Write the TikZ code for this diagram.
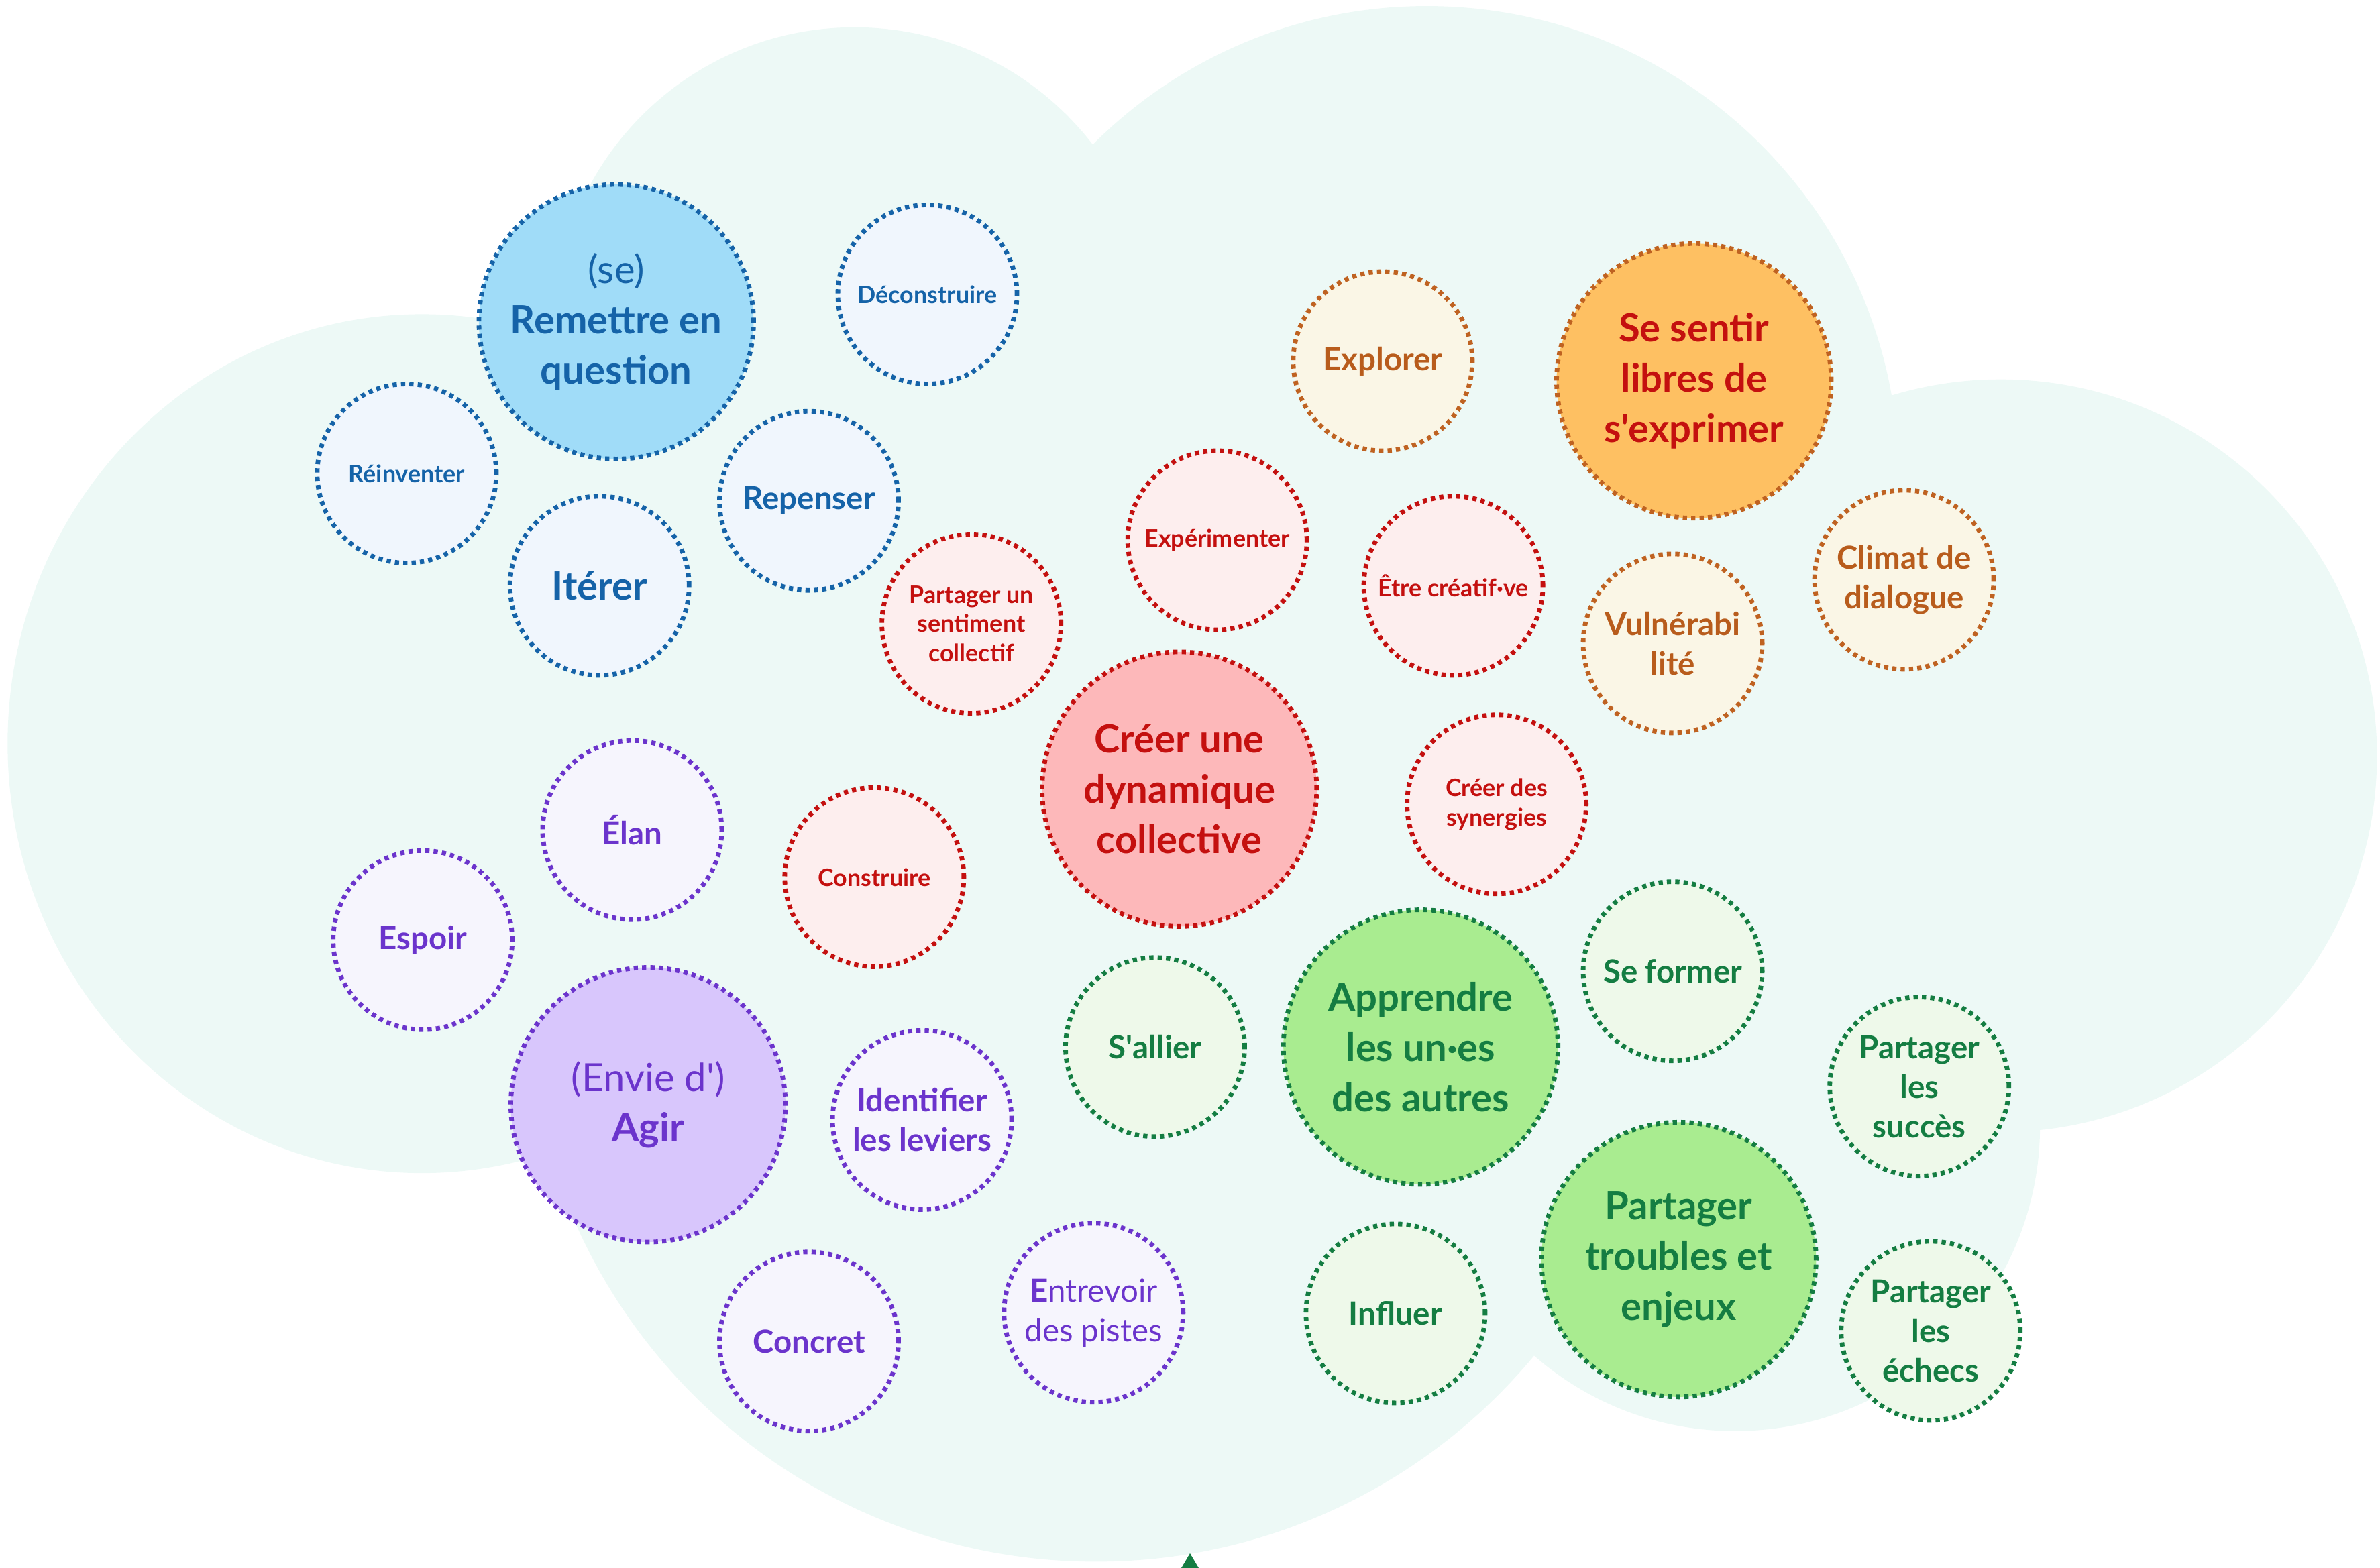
\documentclass[tikz,border=0pt]{standalone}
\usepackage{fontspec}
\setmainfont{Lato}[Ligatures=TeXOff]
\definecolor{cloud}{HTML}{EDF9F6}
\definecolor{bluD}{HTML}{1563A8}
\definecolor{bluF}{HTML}{F0F6FD}
\definecolor{bluB}{HTML}{A0DCF8}
\definecolor{redD}{HTML}{C4100F}
\definecolor{redF}{HTML}{FDEEEE}
\definecolor{redB}{HTML}{FDB8BA}
\definecolor{orgD}{HTML}{BF6221}
\definecolor{orgT}{HTML}{B85C1C}
\definecolor{orgF}{HTML}{FAF6E6}
\definecolor{orgB}{HTML}{FEC062}
\definecolor{purD}{HTML}{6B34CC}
\definecolor{purF}{HTML}{F6F5FD}
\definecolor{purB}{HTML}{D8C6FC}
\definecolor{grnD}{HTML}{147D42}
\definecolor{grnF}{HTML}{EEF9EA}
\definecolor{grnB}{HTML}{A9EC90}
\tikzset{
  bub/.style={circle, inner sep=0pt, line width=1.95pt, dash pattern=on 1.8pt off 1.75pt},
  bS/.style={bub, minimum size=75.97pt},
  bL/.style={bub, minimum size=116.5pt},
  blueS/.style={bS, draw=bluD, fill=bluF},
  blueL/.style={bL, draw=bluD, fill=bluB},
  redS/.style={bS, draw=redD, fill=redF},
  redL/.style={bL, draw=redD, fill=redB},
  orgS/.style={bS, draw=orgD, fill=orgF},
  orgL/.style={bL, draw=orgD, fill=orgB},
  purS/.style={bS, draw=purD, fill=purF},
  purL/.style={bL, draw=purD, fill=purB},
  grnS/.style={bS, draw=grnD, fill=grnF},
  grnL/.style={bL, draw=grnD, fill=grnB},
  tS/.style={align=center, inner sep=0pt, font=\fontsize{10.2}{12.4}\selectfont\bfseries},
  tM/.style={align=center, inner sep=0pt, font=\fontsize{13.5}{16.8}\selectfont\bfseries},
  tL/.style={align=center, inner sep=0pt, font=\fontsize{16.5}{21.3}\selectfont\bfseries},
}
\begin{document}
\begin{tikzpicture}[x=0.6438pt, y=-0.6438pt]
\useasboundingbox (0,0) rectangle (1568,1033.2);
% cloud
\fill[cloud] (278,490) ellipse [x radius=273, y radius=283];
\fill[cloud] (563,216) circle [radius=198];
\fill[cloud] (940,315) circle [radius=311];
\fill[cloud] (1318,498) circle [radius=248];
\fill[cloud] (1143,742) circle [radius=201];
\fill[cloud] (722,654) circle [radius=375];
\fill[cloud] (300,400) -- (600,300) -- (1000,400) -- (1300,600) -- (1100,800) -- (700,800) -- (350,650) -- cycle;
% arrow tip at bottom
\fill[grnD] (784,1023.5) -- (793.7,1040) -- (774.3,1040) -- cycle;

% blue
\node[blueL] (remet) at (406,212) {};
\node[tL, text=bluD] (remett) at (remet) {{\mdseries (se)}\\Remettre en\\question};
\node[blueS] (deco) at (611,194) {};
\node[tS, text=bluD] (decot) at (deco) {Déconstruire};
\node[blueS] (rein) at (268,312) {};
\node[tS, text=bluD] (reint) at (rein) {Réinventer};
\node[blueS] (repe) at (533,330) {};
\node[tM, text=bluD] (repet) at (repe) {Repenser};
\node[blueS] (iter) at (395,386) {};
\node[tL, text=bluD] (itert) at (iter) {Itérer};

% red
\node[redS] (psc) at (640,411) {};
\node[tS, text=redD] (psct) at (psc) {Partager un\\sentiment\\collectif};
\node[redS] (expe) at (802,356) {};
\node[tS, text=redD] (expet) at (expe) {Expérimenter};
\node[redS] (etre) at (957.5,386) {};
\node[tS, text=redD] (etret) at (etre) {Être créatif·ve};
\node[redL] (cdc) at (777,520) {};
\node[tL, text=redD] (cdct) at (cdc) {Créer une\\dynamique\\collective};
\node[redS] (syn) at (986,530) {};
\node[tS, text=redD] (synt) at (syn) {Créer des\\synergies};
\node[redS] (cons) at (576,578) {};
\node[tS, text=redD] (const) at (cons) {Construire};

% orange
\node[orgS] (expl) at (911,238) {};
\node[tM, text=orgT] (explt) at (expl) {Explorer};
\node[orgL] (libr) at (1116,251) {};
\node[tL, text=redD] (librt) at (libr) {Se sentir\\libres de\\s'exprimer};
\node[orgS] (clim) at (1254.5,382) {};
\node[tM, text=orgT] (climt) at (clim) {Climat de\\dialogue};
\node[orgS] (vuln) at (1102,424) {};
\node[tM, text=orgT] (vulnt) at (vuln) {Vulnérabi\\lité};

% purple
\node[purS] (elan) at (416.5,547) {};
\node[tM, text=purD] (elant) at (elan) {Élan};
\node[purS] (espo) at (278.5,619.5) {};
\node[tM, text=purD] (espot) at (espo) {Espoir};
\node[purL] (agir) at (427,728) {};
\node[tL, text=purD] (agirt) at (agir) {{\mdseries (Envie d')}\\Agir};
\node[purS] (iden) at (607.5,738) {};
\node[tM, text=purD] (ident) at (iden) {Identifier\\les leviers};
\node[purS] (conc) at (533,884) {};
\node[tM, text=purD] (conct) at (conc) {Concret};
\node[purS] (entr) at (720.5,865) {};
\node[tM, text=purD, font=\fontsize{13.5}{16.8}\selectfont\mdseries] (entrt) at (entr) {{\bfseries E}ntrevoir\\des pistes};

% green
\node[grnS] (sall) at (761,690) {};
\node[tM, text=grnD] (sallt) at (sall) {S'allier};
\node[grnL] (appr) at (936,690) {};
\node[tL, text=grnD] (apprt) at (appr) {Apprendre\\les un·es\\des autres};
\node[grnS] (sefo) at (1102,640) {};
\node[tM, text=grnD] (sefot) at (sefo) {Se former};
\node[grnS] (psuc) at (1264.5,716) {};
\node[tM, text=grnD] (psuct) at (psuc) {Partager\\les\\succès};
\node[grnL] (ptro) at (1106,830) {};
\node[tL, text=grnD] (ptrot) at (ptro) {Partager\\troubles et\\enjeux};
\node[grnS] (infl) at (919.4,865.5) {};
\node[tM, text=grnD] (inflt) at (infl) {Influer};
\node[grnS] (pech) at (1272,877) {};
\node[tM, text=grnD] (pecht) at (pech) {Partager\\les\\échecs};
\end{tikzpicture}
\end{document}
